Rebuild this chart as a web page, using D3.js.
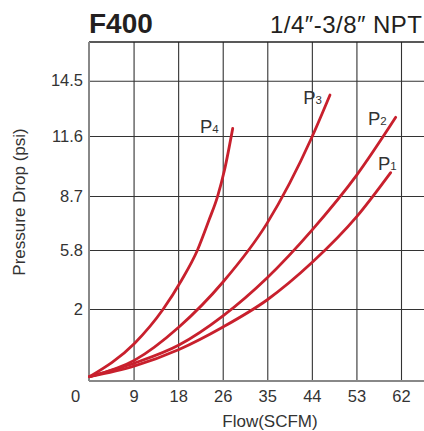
<!DOCTYPE html>
<html>
<head>
<meta charset="utf-8">
<script src="https://cdn.jsdelivr.net/npm/d3@7"></script>
<style>
  body { margin: 0; background: #fff; }
  svg { display: block; font-family: "Liberation Sans", Arial, sans-serif; }
  .grid .domain { display: none; }
  .grid line { stroke: #333; stroke-width: 1.1; }
  .grid text { fill: #333; }
</style>
</head>
<body>
<div id="chart"></div>
<script>
// tick labels (the chart's own, unevenly rounded)
const xTickLabels = ["0", "9", "18", "26", "35", "44", "53", "62"];
const yTickValues = [2, 5.8, 8.7, 11.6, 14.5];
const yTickLabels = ["2", "5.8", "8.7", "11.6", "14.5"];

// curves: flow (SCFM) vs pressure drop (psi)
const p1Flow = [0.1, 9.08, 17.88, 26.63, 35.37, 44.31, 53.2, 59.95];
const p1Drop = [0.12, 0.42, 0.875, 1.5, 2.58, 4.99, 7.59, 9.83];
const p2Flow = [0.1, 9.08, 17.88, 26.63, 35.37, 44.31, 53.2, 60.95];
const p2Drop = [0.12, 0.5, 1.0, 1.81, 4.0, 6.87, 9.71, 12.58];
const p3Flow = [0.1, 9.08, 17.88, 26.63, 35.37, 44.31, 47.89];
const p3Drop = [0.12, 0.58, 1.5, 3.74, 7.23, 11.55, 13.75];
const p4Flow = [0.1, 9.08, 14.76, 18.42, 21.52, 23.85, 25.54, 26.93, 28.56];
const p4Drop = [0.12, 1.05, 2.0, 3.87, 5.77, 7.41, 8.67, 9.96, 12.0];

const seriesNames = ["1", "2", "3", "4"];
const seriesFlow = [p1Flow, p2Flow, p3Flow, p4Flow];
const seriesDrop = [p1Drop, p2Drop, p3Drop, p4Drop];

var width = 424, height = 431;
var plotLeft = 89, plotRight = 401, plotTop = 42, plotBottom = 381;
var red = "#c8202d";

var svg = d3.select("#chart").append("svg")
  .attr("width", width)
  .attr("height", height);

var x = d3.scaleLinear().domain([0, 62]).range([plotLeft, plotRight]);
// the printed grid is not evenly spaced, so the y scale is piecewise
var y = d3.scaleLinear()
  .domain([0, 2, 5.8, 8.7, 11.6, 14.5, 16.5])
  .range([plotBottom, 309, 250, 196, 136, 80.7, plotTop]);

var xTickValues = xTickLabels.map(function(d, i){ return i * 62 / 7; });

// vertical grid + flow labels
var xAxis = svg.append("g")
  .attr("class", "grid")
  .attr("transform", "translate(0," + plotBottom + ")")
  .call(d3.axisBottom(x)
    .tickValues(xTickValues)
    .tickSize(-(plotBottom - plotTop))
    .tickPadding(9)
    .tickFormat(function(d, i){ return xTickLabels[i]; }));
xAxis.selectAll("text").attr("font-size", 16.5);
xAxis.selectAll(".tick").filter(function(d, i){ return i == 0; })
  .select("text").attr("dx", -14);
xAxis.selectAll(".tick").filter(function(d, i){ return i == 0; })
  .select("line").remove();

// horizontal grid + pressure labels
var yAxis = svg.append("g")
  .attr("class", "grid")
  .attr("transform", "translate(" + plotLeft + ",0)")
  .call(d3.axisLeft(y)
    .tickValues(yTickValues)
    .tickSize(-(width - plotLeft))
    .tickPadding(6)
    .tickFormat(function(d, i){ return yTickLabels[i]; }));
yAxis.selectAll("text").attr("font-size", 16.5);

// frame: top line dark, left + bottom grey
svg.append("line")
  .attr("x1", plotLeft).attr("x2", width)
  .attr("y1", plotTop).attr("y2", plotTop)
  .attr("stroke", "#222").attr("stroke-width", 1.3);
svg.append("line")
  .attr("x1", plotLeft).attr("x2", plotLeft)
  .attr("y1", plotTop).attr("y2", plotBottom)
  .attr("stroke", "#888").attr("stroke-width", 2);
svg.append("line")
  .attr("x1", plotLeft).attr("x2", width)
  .attr("y1", plotBottom).attr("y2", plotBottom)
  .attr("stroke", "#888").attr("stroke-width", 2);

// curves
var line = d3.line()
  .x(function(d){ return x(d[0]); })
  .y(function(d){ return y(d[1]); })
  .curve(d3.curveMonotoneX);

var curves = seriesFlow.map(function(f, i){
  return f.map(function(v, j){ return [v, seriesDrop[i][j]]; });
});

svg.append("g").selectAll("path")
  .data(curves)
  .enter().append("path")
  .attr("d", line)
  .attr("fill", "none")
  .attr("stroke", red)
  .attr("stroke-width", 2.8)
  .attr("stroke-linecap", "round");

// P labels near the end of each curve
var labelShift = [[6, -3], [-9, 8], [-8, 9], [-14, 5]];
var labels = svg.append("g").selectAll("text")
  .data(curves)
  .enter().append("text")
  .attr("x", function(d, i){ return x(d[d.length - 1][0]) + labelShift[i][0]; })
  .attr("y", function(d, i){ return y(d[d.length - 1][1]) + labelShift[i][1]; })
  .attr("text-anchor", "end")
  .attr("fill", "#333")
  .attr("font-size", 18.5)
  .text("P");
labels.append("tspan")
  .attr("font-size", 11.5)
  .text(function(d, i){ return seriesNames[i]; });

// titles
svg.append("text")
  .attr("x", plotLeft).attr("y", 33)
  .attr("font-size", 28).attr("font-weight", "bold")
  .attr("fill", "#231f20")
  .text("F400");
svg.append("text")
  .attr("x", 270).attr("y", 33)
  .attr("font-size", 24)
  .attr("textLength", 152)
  .attr("lengthAdjust", "spacing")
  .attr("fill", "#231f20")
  .text("1/4\u2033-3/8\u2033 NPT");

svg.append("text")
  .attr("x", 270).attr("y", 427)
  .attr("text-anchor", "middle")
  .attr("font-size", 17)
  .attr("fill", "#333")
  .text("Flow(SCFM)");
svg.append("text")
  .attr("transform", "translate(25,202) rotate(-90)")
  .attr("text-anchor", "middle")
  .attr("font-size", 17)
  .attr("fill", "#333")
  .text("Pressure Drop (psi)");
</script>
</body>
</html>
